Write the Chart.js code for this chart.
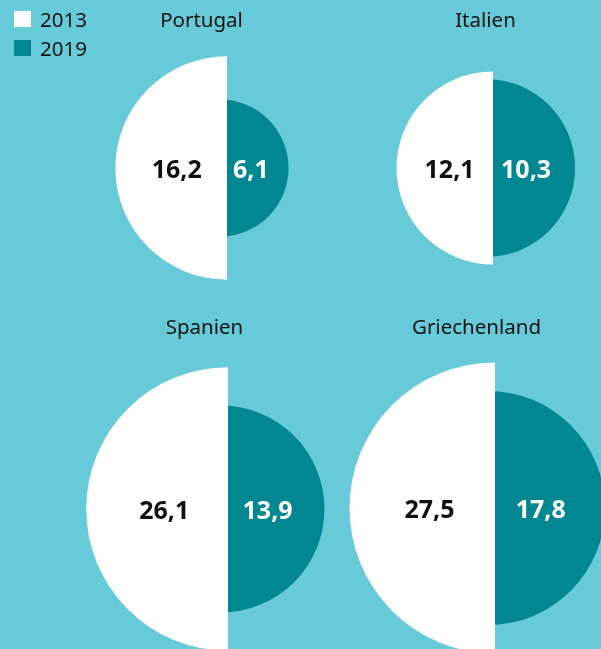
<!DOCTYPE html>
<html>
<head>
<meta charset="utf-8">
<script src="https://cdn.jsdelivr.net/npm/chart.js@4.4.1/dist/chart.umd.min.js"></script>
<style>
  html, body { margin: 0; padding: 0; }
  body {
    width: 601px; height: 649px; overflow: hidden; position: relative;
    background: #66cad8; font-family: "Noto Sans", sans-serif; color: #111;
  }
  canvas.half { position: absolute; }
  .title {
    position: absolute; font-size: 20.5px; line-height: 20.5px;
    white-space: nowrap; transform: translateX(-50%);
  }
  .legend { position: absolute; left: 14px; font-size: 20.5px; line-height: 20.5px; }
  .legend .box { position: absolute; left: 0; top: 2px; width: 17px; height: 16px; }
  .legend .txt { position: absolute; left: 26px; top: 0; }
</style>
</head>
<body>
<script>
const countries = ['Portugal', 'Italien', 'Spanien', 'Griechenland'];
const years = ['2013', '2019'];
const values2013 = [16.2, 12.1, 26.1, 27.5];
const values2019 = [6.1, 10.3, 13.9, 17.8];

const fills = { '2013': '#ffffff', '2019': '#008792' };
const textColors = { '2013': '#111111', '2019': '#ffffff' };

// page placement of each pair: divider line x, middle y, title centre
const places = [
  { x: 227, y: 168, titleX: 201.5, titleTop: 8.5 },
  { x: 493, y: 168, titleX: 485.5, titleTop: 8.5 },
  { x: 228, y: 509, titleX: 204.5, titleTop: 316 },
  { x: 495, y: 508, titleX: 476.5, titleTop: 316 }
];
const SIZE = 304;      // canvas side, radius scale spans half of it
const MAX_VALUE = 30;  // value that fills the whole radius
const TEAL_SHIFT = 7;  // 2019 half sits a little left, tucked under the 2013 half

const valueLabel = {
  id: 'valueLabel',
  afterDatasetsDraw(chart) {
    const ds = chart.data.datasets[0];
    const arc = chart.getDatasetMeta(0).data[0];
    const { x, y, startAngle, endAngle, outerRadius } =
      arc.getProps(['x', 'y', 'startAngle', 'endAngle', 'outerRadius'], true);
    const mid = (startAngle + endAngle) / 2;
    const d = outerRadius * 0.45;
    const ctx = chart.ctx;
    ctx.save();
    ctx.font = 'bold 25px "Noto Sans"';
    ctx.fillStyle = ds.labelColor;
    ctx.textAlign = 'center';
    ctx.textBaseline = 'alphabetic';
    ctx.fillText(ds.raw.toFixed(1).replace('.', ','), x + Math.cos(mid) * d, y + Math.sin(mid) * d + 9.5);
    ctx.restore();
  }
};

function makeHalf(cx, cy, value, year) {
  const canvas = document.createElement('canvas');
  canvas.className = 'half';
  canvas.width = SIZE;
  canvas.height = SIZE;
  canvas.style.left = (cx - SIZE / 2) + 'px';
  canvas.style.top = (cy - SIZE / 2) + 'px';
  document.body.appendChild(canvas);

  const isLeft = year === years[0];
  return new Chart(canvas, {
    type: 'polarArea',
    data: {
      labels: [year],
      datasets: [{
        data: [Math.sqrt(value)],   // area follows the value
        raw: value,
        labelColor: textColors[year],
        angle: 180,
        backgroundColor: fills[year],
        borderWidth: 0
      }]
    },
    options: {
      responsive: false,
      animation: false,
      events: [],
      layout: { padding: 0 },
      plugins: { legend: { display: false }, tooltip: { enabled: false } },
      scales: {
        r: {
          display: false,
          min: 0,
          max: Math.sqrt(MAX_VALUE),
          startAngle: isLeft ? 180 : 0,
          pointLabels: { display: false }
        }
      }
    },
    plugins: [valueLabel]
  });
}

// 2019 halves first so the 2013 halves lie on top
countries.forEach((c, i) => makeHalf(places[i].x - TEAL_SHIFT, places[i].y, values2019[i], years[1]));
countries.forEach((c, i) => makeHalf(places[i].x, places[i].y, values2013[i], years[0]));

countries.forEach((c, i) => {
  const t = document.createElement('div');
  t.className = 'title';
  t.textContent = c;
  t.style.left = places[i].titleX + 'px';
  t.style.top = places[i].titleTop + 'px';
  document.body.appendChild(t);
});

years.forEach((y, i) => {
  const row = document.createElement('div');
  row.className = 'legend';
  row.style.top = (8.5 + i * 29) + 'px';
  row.innerHTML = '<span class="box"></span><span class="txt"></span>';
  row.querySelector('.box').style.background = fills[y];
  row.querySelector('.txt').textContent = y;
  document.body.appendChild(row);
});
</script>
</body>
</html>
